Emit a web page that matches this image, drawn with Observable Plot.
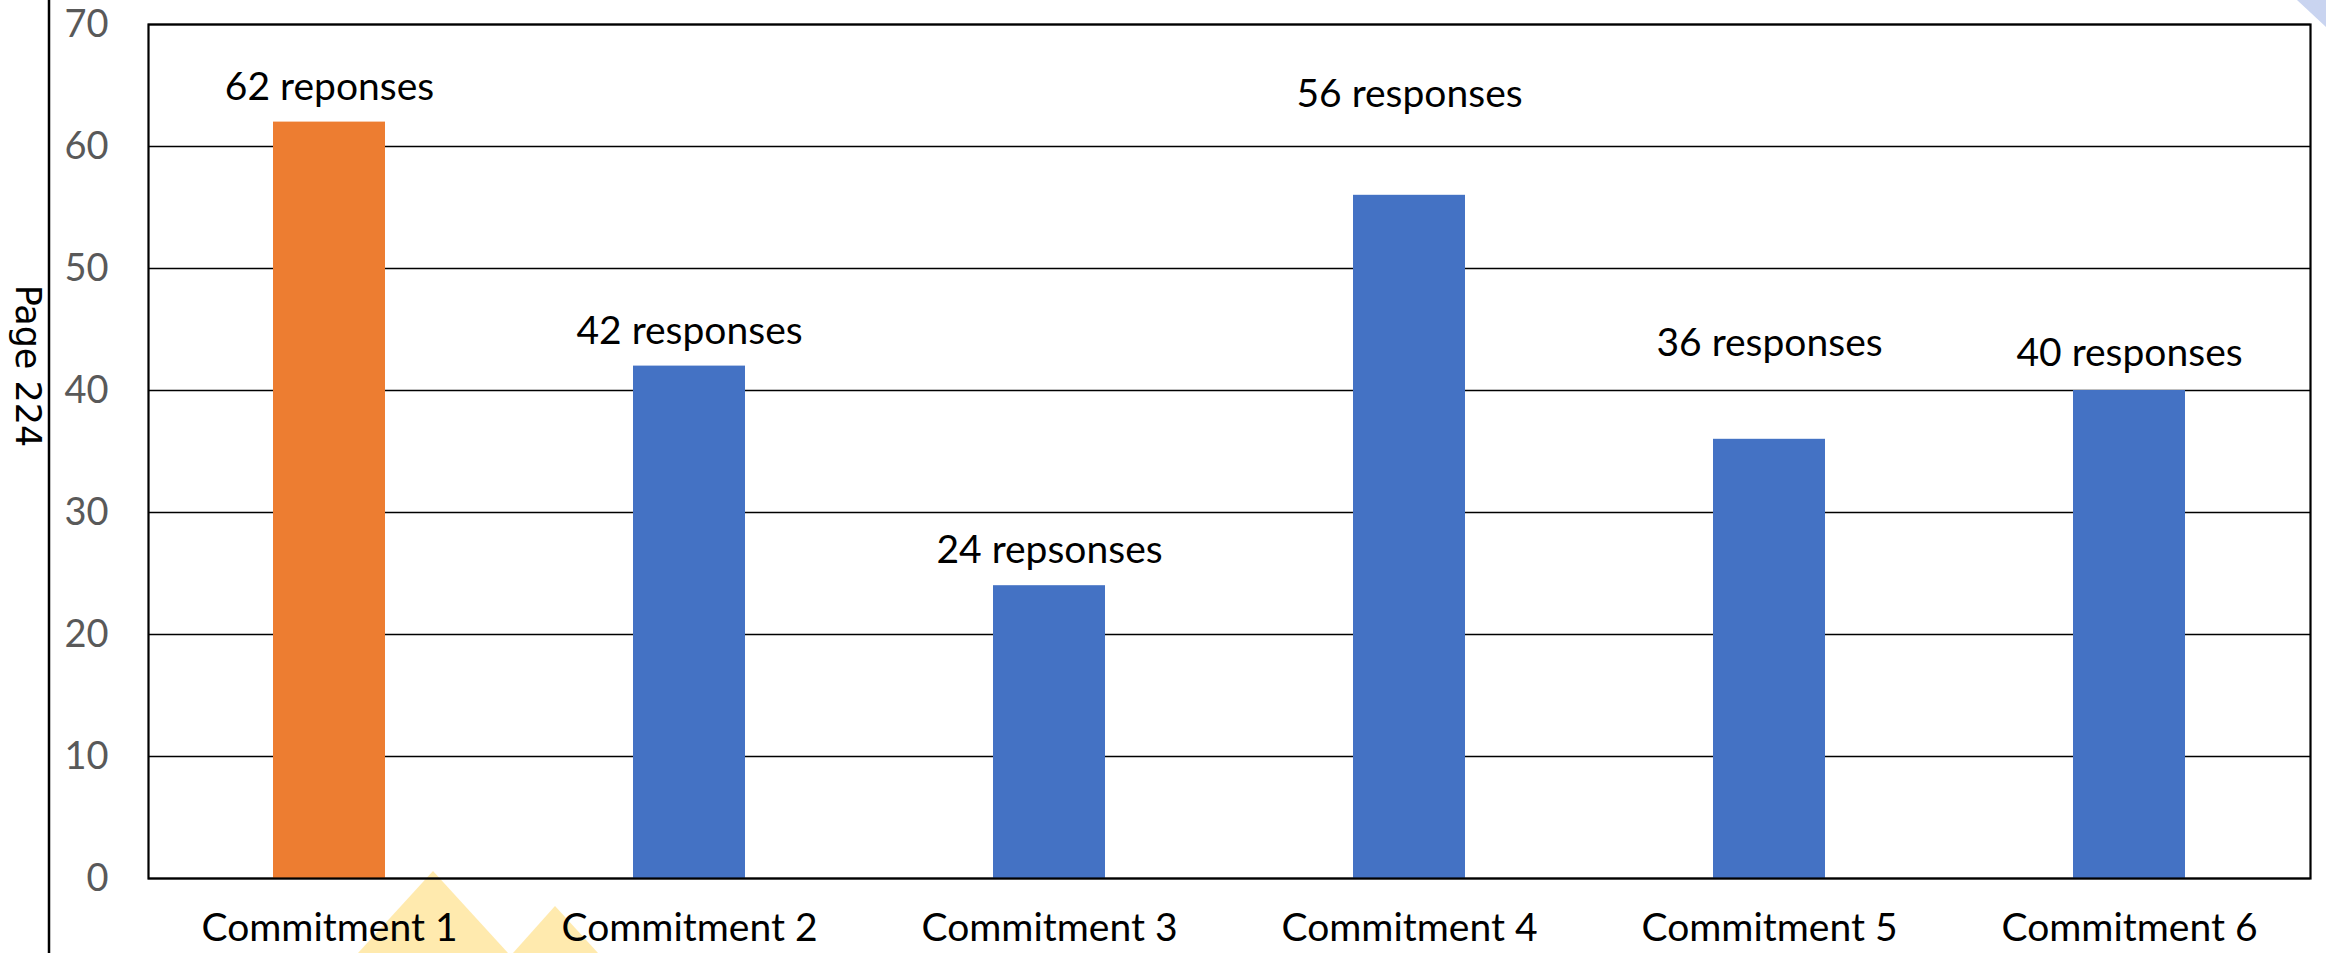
<!DOCTYPE html>
<html>
<head>
<meta charset="utf-8">
<script src="https://cdn.jsdelivr.net/npm/d3@7"></script>
<script src="https://cdn.jsdelivr.net/npm/@observablehq/plot@0.6"></script>
<style>
  html, body { margin: 0; padding: 0; background: #ffffff; width: 2326px; height: 953px; overflow: hidden; }
  #page { position: relative; width: 2326px; height: 953px; }
  #deco, #chart { position: absolute; left: 0; top: 0; }
  #chart svg { background: transparent; }
</style>
</head>
<body>
<div id="page">
  <!-- page decorations: margin rule, page number, corner shapes -->
  <svg id="deco" width="2326" height="953" viewBox="0 0 2326 953">
    <polygon points="2297,0 2326,0 2326,27" fill="#c9d4f0"></polygon>
    <polygon points="433,871 358,953 508,953" fill="#ffeaae"></polygon>
    <polygon points="555,906 513,953 598,953" fill="#ffeaae"></polygon>
    <line x1="49" y1="0" x2="49" y2="953" stroke="#000" stroke-width="2.5"></line>
    <text transform="translate(26,366) rotate(90)" text-anchor="middle" dominant-baseline="middle"
          font-family="DejaVu Sans, sans-serif" font-size="35" fill="#000">Page 224</text>
  </svg>
  <div id="chart"></div>
</div>
<script>
// Responses received for each commitment
const categories = ["Commitment 1", "Commitment 2", "Commitment 3", "Commitment 4", "Commitment 5", "Commitment 6"];
const values = [62, 42, 24, 56, 36, 40];
// label wording as printed beside each count
const labelWords = ["reponses", "responses", "repsonses", "responses", "responses", "responses"];
// height (in responses) at which each count label sits
const labelAt = [63.8, 43.8, 25.9, 63.2, 42.8, 42.0];
const yTicks = [0, 10, 20, 30, 40, 50, 60, 70];
const highlighted = "Commitment 1";

const rows = categories.map((c, i) => ({
  category: c,
  value: values[i],
  label: `${values[i]} ${labelWords[i]}`,
  labelY: labelAt[i]
}));

const chart = Plot.plot({
  width: 2326,
  height: 953,
  marginLeft: 148,
  marginRight: 16,
  marginTop: 24,
  marginBottom: 75,
  style: { fontFamily: "Lato, sans-serif", background: "transparent" },
  x: { domain: categories, paddingInner: 0.69, paddingOuter: 0.345, label: null },
  y: { domain: [0, 70], label: null },
  marks: [
    Plot.gridY(yTicks, { stroke: "#000", strokeOpacity: 1, strokeWidth: 1.4 }),
    Plot.barY(rows, {
      x: "category",
      y: "value",
      fill: d => d.category === highlighted ? "#ed7d31" : "#4472c4"
    }),
    Plot.text(rows, {
      x: "category",
      y: "labelY",
      text: "label",
      lineAnchor: "bottom",
      fontSize: 39,
      fill: "#000"
    }),
    Plot.axisY({ ticks: yTicks, tickSize: 0, tickPadding: 40, fontSize: 38, color: "#595959", label: null }),
    Plot.axisX({ tickSize: 0, tickPadding: 35, fontSize: 39, color: "#000", label: null }),
    Plot.frame({ stroke: "#000", strokeWidth: 2.2 })
  ]
});
document.getElementById("chart").appendChild(chart);
</script>
</body>
</html>
